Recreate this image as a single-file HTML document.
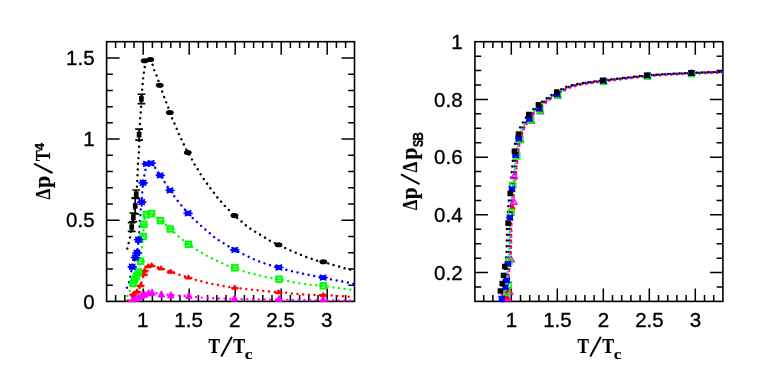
<!DOCTYPE html>
<html><head><meta charset="utf-8"><title>chart</title>
<style>html,body{margin:0;padding:0;background:#fff}svg{display:block;will-change:transform}</style>
</head><body>
<svg width="763" height="383" viewBox="0 0 763 383">
<rect width="763" height="383" fill="#fff"/>
<rect x="106.6" y="41.7" width="247.9" height="259.7" fill="none" stroke="#000" stroke-width="1.6"/>
<path d="M115.60 301.4v-6.3M115.60 41.7v6.3M124.80 301.4v-6.3M124.80 41.7v6.3M134.00 301.4v-6.3M134.00 41.7v6.3M143.20 301.4v-13M143.20 41.7v13M152.40 301.4v-6.3M152.40 41.7v6.3M161.60 301.4v-6.3M161.60 41.7v6.3M170.80 301.4v-6.3M170.80 41.7v6.3M180.00 301.4v-6.3M180.00 41.7v6.3M189.20 301.4v-13M189.20 41.7v13M198.40 301.4v-6.3M198.40 41.7v6.3M207.60 301.4v-6.3M207.60 41.7v6.3M216.80 301.4v-6.3M216.80 41.7v6.3M226.00 301.4v-6.3M226.00 41.7v6.3M235.20 301.4v-13M235.20 41.7v13M244.40 301.4v-6.3M244.40 41.7v6.3M253.60 301.4v-6.3M253.60 41.7v6.3M262.80 301.4v-6.3M262.80 41.7v6.3M272.00 301.4v-6.3M272.00 41.7v6.3M281.20 301.4v-13M281.20 41.7v13M290.40 301.4v-6.3M290.40 41.7v6.3M299.60 301.4v-6.3M299.60 41.7v6.3M308.80 301.4v-6.3M308.80 41.7v6.3M318.00 301.4v-6.3M318.00 41.7v6.3M327.20 301.4v-13M327.20 41.7v13M336.40 301.4v-6.3M336.40 41.7v6.3M345.60 301.4v-6.3M345.60 41.7v6.3M106.6 285.17h6.3M354.5 285.17h-6.3M106.6 268.94h6.3M354.5 268.94h-6.3M106.6 252.71h6.3M354.5 252.71h-6.3M106.6 236.48h6.3M354.5 236.48h-6.3M106.6 220.25h13M354.5 220.25h-13M106.6 204.02h6.3M354.5 204.02h-6.3M106.6 187.79h6.3M354.5 187.79h-6.3M106.6 171.56h6.3M354.5 171.56h-6.3M106.6 155.33h6.3M354.5 155.33h-6.3M106.6 139.10h13M354.5 139.10h-13M106.6 122.87h6.3M354.5 122.87h-6.3M106.6 106.64h6.3M354.5 106.64h-6.3M106.6 90.41h6.3M354.5 90.41h-6.3M106.6 74.18h6.3M354.5 74.18h-6.3M106.6 57.95h13M354.5 57.95h-13" fill="none" stroke="#000" stroke-width="1.5"/>
<rect x="474.9" y="41.7" width="248.0" height="259.7" fill="none" stroke="#000" stroke-width="1.6"/>
<path d="M483.70 301.4v-6.3M483.70 41.7v6.3M492.90 301.4v-6.3M492.90 41.7v6.3M502.10 301.4v-6.3M502.10 41.7v6.3M511.30 301.4v-13M511.30 41.7v13M520.50 301.4v-6.3M520.50 41.7v6.3M529.70 301.4v-6.3M529.70 41.7v6.3M538.90 301.4v-6.3M538.90 41.7v6.3M548.10 301.4v-6.3M548.10 41.7v6.3M557.30 301.4v-13M557.30 41.7v13M566.50 301.4v-6.3M566.50 41.7v6.3M575.70 301.4v-6.3M575.70 41.7v6.3M584.90 301.4v-6.3M584.90 41.7v6.3M594.10 301.4v-6.3M594.10 41.7v6.3M603.30 301.4v-13M603.30 41.7v13M612.50 301.4v-6.3M612.50 41.7v6.3M621.70 301.4v-6.3M621.70 41.7v6.3M630.90 301.4v-6.3M630.90 41.7v6.3M640.10 301.4v-6.3M640.10 41.7v6.3M649.30 301.4v-13M649.30 41.7v13M658.50 301.4v-6.3M658.50 41.7v6.3M667.70 301.4v-6.3M667.70 41.7v6.3M676.90 301.4v-6.3M676.90 41.7v6.3M686.10 301.4v-6.3M686.10 41.7v6.3M695.30 301.4v-13M695.30 41.7v13M704.50 301.4v-6.3M704.50 41.7v6.3M713.70 301.4v-6.3M713.70 41.7v6.3M474.9 287.01h6.3M722.9 287.01h-6.3M474.9 272.58h13M722.9 272.58h-13M474.9 258.15h6.3M722.9 258.15h-6.3M474.9 243.72h6.3M722.9 243.72h-6.3M474.9 229.29h6.3M722.9 229.29h-6.3M474.9 214.86h13M722.9 214.86h-13M474.9 200.43h6.3M722.9 200.43h-6.3M474.9 186.00h6.3M722.9 186.00h-6.3M474.9 171.57h6.3M722.9 171.57h-6.3M474.9 157.14h13M722.9 157.14h-13M474.9 142.71h6.3M722.9 142.71h-6.3M474.9 128.28h6.3M722.9 128.28h-6.3M474.9 113.85h6.3M722.9 113.85h-6.3M474.9 99.42h13M722.9 99.42h-13M474.9 84.99h6.3M722.9 84.99h-6.3M474.9 70.56h6.3M722.9 70.56h-6.3M474.9 56.13h6.3M722.9 56.13h-6.3" fill="none" stroke="#000" stroke-width="1.5"/>
<text x="142.6" y="326.5" font-size="20.5" text-anchor="middle" font-family="Liberation Sans, sans-serif" fill="#000" stroke="#000" stroke-width="0.35">1</text>
<text x="511.40000000000003" y="326.5" font-size="20.5" text-anchor="middle" font-family="Liberation Sans, sans-serif" fill="#000" stroke="#000" stroke-width="0.35">1</text>
<text x="188.6" y="326.5" font-size="20.5" text-anchor="middle" font-family="Liberation Sans, sans-serif" fill="#000" stroke="#000" stroke-width="0.35">1.5</text>
<text x="557.4" y="326.5" font-size="20.5" text-anchor="middle" font-family="Liberation Sans, sans-serif" fill="#000" stroke="#000" stroke-width="0.35">1.5</text>
<text x="234.6" y="326.5" font-size="20.5" text-anchor="middle" font-family="Liberation Sans, sans-serif" fill="#000" stroke="#000" stroke-width="0.35">2</text>
<text x="603.4" y="326.5" font-size="20.5" text-anchor="middle" font-family="Liberation Sans, sans-serif" fill="#000" stroke="#000" stroke-width="0.35">2</text>
<text x="280.59999999999997" y="326.5" font-size="20.5" text-anchor="middle" font-family="Liberation Sans, sans-serif" fill="#000" stroke="#000" stroke-width="0.35">2.5</text>
<text x="649.4" y="326.5" font-size="20.5" text-anchor="middle" font-family="Liberation Sans, sans-serif" fill="#000" stroke="#000" stroke-width="0.35">2.5</text>
<text x="326.59999999999997" y="326.5" font-size="20.5" text-anchor="middle" font-family="Liberation Sans, sans-serif" fill="#000" stroke="#000" stroke-width="0.35">3</text>
<text x="695.4" y="326.5" font-size="20.5" text-anchor="middle" font-family="Liberation Sans, sans-serif" fill="#000" stroke="#000" stroke-width="0.35">3</text>
<text x="94.6" y="65.14999999999996" font-size="20.5" text-anchor="end" font-family="Liberation Sans, sans-serif" fill="#000" stroke="#000" stroke-width="0.35">1.5</text>
<text x="94.6" y="146.29999999999995" font-size="20.5" text-anchor="end" font-family="Liberation Sans, sans-serif" fill="#000" stroke="#000" stroke-width="0.35">1</text>
<text x="94.6" y="227.44999999999996" font-size="20.5" text-anchor="end" font-family="Liberation Sans, sans-serif" fill="#000" stroke="#000" stroke-width="0.35">0.5</text>
<text x="94.6" y="308.59999999999997" font-size="20.5" text-anchor="end" font-family="Liberation Sans, sans-serif" fill="#000" stroke="#000" stroke-width="0.35">0</text>
<text x="462.6" y="48.900000000000006" font-size="20.5" text-anchor="end" font-family="Liberation Sans, sans-serif" fill="#000" stroke="#000" stroke-width="0.35">1</text>
<text x="462.6" y="106.61999999999999" font-size="20.5" text-anchor="end" font-family="Liberation Sans, sans-serif" fill="#000" stroke="#000" stroke-width="0.35">0.8</text>
<text x="462.6" y="164.34" font-size="20.5" text-anchor="end" font-family="Liberation Sans, sans-serif" fill="#000" stroke="#000" stroke-width="0.35">0.6</text>
<text x="462.6" y="222.06" font-size="20.5" text-anchor="end" font-family="Liberation Sans, sans-serif" fill="#000" stroke="#000" stroke-width="0.35">0.4</text>
<text x="462.6" y="279.78000000000003" font-size="20.5" text-anchor="end" font-family="Liberation Sans, sans-serif" fill="#000" stroke="#000" stroke-width="0.35">0.2</text>
<text transform="translate(208.44 352.80) scale(0.791 1)" font-size="21.69" font-family="Liberation Serif, serif" font-weight="bold" fill="#000" stroke="#000" stroke-width="0.2">T</text>
<path d="M221.30 356.5L231.90 336.8" stroke="#000" stroke-width="2.0" fill="none"/>
<text transform="translate(233.33 352.80) scale(0.820 1)" font-size="21.69" font-family="Liberation Serif, serif" font-weight="bold" fill="#000" stroke="#000" stroke-width="0.2">T</text>
<text transform="translate(244.69 359.00) scale(1.164 1)" font-size="14.95" font-family="Liberation Serif, serif" font-weight="bold" fill="#000" stroke="#000" stroke-width="0.2">c</text>
<text transform="translate(577.44 352.80) scale(0.791 1)" font-size="21.69" font-family="Liberation Serif, serif" font-weight="bold" fill="#000" stroke="#000" stroke-width="0.2">T</text>
<path d="M590.30 356.5L600.90 336.8" stroke="#000" stroke-width="2.0" fill="none"/>
<text transform="translate(602.33 352.80) scale(0.820 1)" font-size="21.69" font-family="Liberation Serif, serif" font-weight="bold" fill="#000" stroke="#000" stroke-width="0.2">T</text>
<text transform="translate(613.69 359.00) scale(1.164 1)" font-size="14.95" font-family="Liberation Serif, serif" font-weight="bold" fill="#000" stroke="#000" stroke-width="0.2">c</text>
<g transform="translate(49.7 199.2) rotate(-90)">
<text transform="translate(-0.26 0.00) scale(0.796 1)" font-size="21.53" font-family="Liberation Serif, serif" font-weight="bold" fill="#000" stroke="#000" stroke-width="0.2">&#916;</text>
<text transform="translate(11.17 0.00) scale(0.986 1)" font-size="22.32" font-family="Liberation Serif, serif" font-weight="bold" fill="#000" stroke="#000" stroke-width="0.2">p</text>
<path d="M26.2 2.8L35.5 -15.6" stroke="#000" stroke-width="2.0" fill="none"/>
<text transform="translate(37.85 0.00) scale(0.764 1)" font-size="21.85" font-family="Liberation Serif, serif" font-weight="bold" fill="#000" stroke="#000" stroke-width="0.2">T</text>
<text transform="translate(48.70 -6.10) scale(1.046 1)" font-size="13.04" font-family="Liberation Sans, sans-serif" font-weight="bold" fill="#000" stroke="#000" stroke-width="0.3">4</text>
</g>
<g transform="translate(416.9 210.0) rotate(-90)">
<text transform="translate(-0.25 0.00) scale(0.781 1)" font-size="21.53" font-family="Liberation Serif, serif" font-weight="bold" fill="#000" stroke="#000" stroke-width="0.2">&#916;</text>
<text transform="translate(10.78 0.00) scale(0.950 1)" font-size="22.32" font-family="Liberation Serif, serif" font-weight="bold" fill="#000" stroke="#000" stroke-width="0.2">p</text>
<path d="M25.8 2.7L35.6 -15.9" stroke="#000" stroke-width="2.0" fill="none"/>
<text transform="translate(37.44 0.00) scale(0.796 1)" font-size="21.53" font-family="Liberation Serif, serif" font-weight="bold" fill="#000" stroke="#000" stroke-width="0.2">&#916;</text>
<text transform="translate(50.58 0.00) scale(0.950 1)" font-size="22.32" font-family="Liberation Serif, serif" font-weight="bold" fill="#000" stroke="#000" stroke-width="0.2">p</text>
<text transform="translate(62.88 6.10) scale(0.774 1)" font-size="14.00" font-family="Liberation Sans, sans-serif" font-weight="bold" fill="#000" stroke="#000" stroke-width="0.3">S</text>
<text transform="translate(69.54 6.10) scale(0.820 1)" font-size="14.20" font-family="Liberation Sans, sans-serif" font-weight="bold" fill="#000" stroke="#000" stroke-width="0.3">B</text>
</g>
<clipPath id="cl"><rect x="106.6" y="41.7" width="247.9" height="260.5"/></clipPath>
<clipPath id="cr"><rect x="474.9" y="41.7" width="248.0" height="260.5"/></clipPath>
<g clip-path="url(#cl)">
<path d="M127.30 248.60L127.52 247.74L127.73 246.89L127.94 246.04L128.16 245.19L128.38 244.31L128.60 243.40L128.82 242.53L129.05 241.71L129.28 240.87L129.51 239.94L129.75 238.84L130.00 237.50L130.26 235.83L130.53 233.89L130.81 231.77L131.09 229.60L131.39 227.51L131.70 225.60L132.04 223.89L132.41 222.30L132.79 220.77L133.16 219.28L133.50 217.77L133.80 216.20L134.04 214.60L134.24 213.02L134.42 211.42L134.58 209.78L134.73 208.08L134.90 206.30L135.07 204.36L135.24 202.27L135.40 200.12L135.56 198.00L135.73 196.00L135.90 194.20L136.08 192.68L136.28 191.39L136.48 190.21L136.67 189.04L136.85 187.77L137.00 186.30L137.12 184.60L137.21 182.76L137.29 180.83L137.36 178.84L137.42 176.85L137.50 174.90L137.58 172.92L137.67 170.86L137.75 168.80L137.83 166.81L137.92 164.99L138.00 163.40L138.08 162.17L138.16 161.26L138.24 160.51L138.33 159.75L138.41 158.84L138.50 157.60L138.59 156.13L138.69 154.57L138.78 152.86L138.88 150.90L138.99 148.64L139.10 146.00L139.22 142.73L139.35 138.84L139.49 134.64L139.63 130.44L139.76 126.56L139.90 123.30L140.04 120.68L140.18 118.46L140.32 116.56L140.46 114.88L140.58 113.36L140.70 111.90L140.79 110.71L140.87 109.89L140.94 109.23L141.01 108.49L141.09 107.45L141.20 105.90L141.34 103.69L141.49 100.98L141.66 97.98L141.84 94.89L142.02 91.92L142.20 89.30L142.38 86.96L142.57 84.73L142.77 82.62L142.96 80.66L143.14 78.88L143.30 77.30L143.44 75.98L143.56 74.93L143.66 74.04L143.77 73.25L143.88 72.47L144.00 71.60L144.14 70.67L144.28 69.74L144.43 68.81L144.58 67.90L144.74 66.99L144.90 66.10L145.06 65.19L145.22 64.25L145.38 63.32L145.56 62.44L145.76 61.65L146.00 61.00L146.28 60.48L146.59 60.07L146.93 59.76L147.28 59.51L147.64 59.33L148.00 59.20L148.37 59.10L148.76 59.05L149.16 59.06L149.56 59.15L149.94 59.32L150.30 59.60L150.63 59.98L150.93 60.46L151.22 61.03L151.51 61.68L151.80 62.41L152.10 63.20L152.41 64.11L152.71 65.15L153.02 66.26L153.34 67.40L153.66 68.49L154.00 69.50L154.35 70.40L154.72 71.24L155.09 72.04L155.47 72.83L155.84 73.64L156.20 74.50L156.55 75.42L156.90 76.37L157.24 77.35L157.58 78.33L157.90 79.28L158.20 80.20L158.47 81.07L158.71 81.89L158.93 82.70L159.16 83.51L159.41 84.33L159.70 85.20L160.04 86.11L160.42 87.06L160.82 88.03L161.23 89.00L161.63 89.96L162.00 90.90L162.34 91.82L162.66 92.72L162.96 93.62L163.27 94.51L163.58 95.40L163.90 96.30L164.24 97.20L164.59 98.11L164.94 99.01L165.29 99.91L165.65 100.81L166.00 101.70L166.36 102.57L166.72 103.43L167.08 104.29L167.44 105.14L167.78 106.01L168.10 106.90L168.39 107.81L168.65 108.74L168.89 109.69L169.14 110.63L169.40 111.57L169.70 112.50L170.03 113.41L170.38 114.32L170.75 115.22L171.13 116.11L171.51 117.01L171.90 117.90L172.29 118.79L172.69 119.67L173.09 120.55L173.50 121.43L173.90 122.31L174.30 123.20L174.69 124.10L175.09 125.01L175.48 125.93L175.86 126.83L176.24 127.73L176.60 128.60L176.94 129.44L177.27 130.26L177.59 131.06L177.91 131.86L178.24 132.67L178.60 133.50L178.99 134.35L179.40 135.21L179.82 136.08L180.25 136.95L180.68 137.82L181.10 138.70L181.50 139.54L181.87 140.34L182.24 141.14L182.64 141.99L183.08 142.93L183.60 144.00L184.21 145.25L184.89 146.67L185.61 148.17L186.36 149.69L187.10 151.16L187.80 152.50L188.48 153.73L189.17 154.90L189.84 156.02L190.50 157.09L191.12 158.11L191.70 159.10L192.21 160.03L192.67 160.89L193.09 161.71L193.51 162.50L193.93 163.29L194.40 164.10L194.91 164.92L195.44 165.74L195.99 166.56L196.54 167.37L197.08 168.18L197.60 169.00L198.10 169.82L198.58 170.64L199.06 171.46L199.53 172.27L200.01 173.09L200.50 173.90L201.00 174.71L201.51 175.51L202.02 176.31L202.54 177.10L203.06 177.90L203.60 178.70L204.15 179.50L204.72 180.31L205.29 181.11L205.87 181.91L206.44 182.71L207.00 183.50L207.54 184.28L208.07 185.05L208.59 185.82L209.11 186.58L209.65 187.34L210.20 188.10L210.78 188.85L211.37 189.60L211.98 190.34L212.59 191.09L213.20 191.84L213.80 192.60L214.39 193.38L214.96 194.17L215.54 194.96L216.11 195.76L216.70 196.54L217.30 197.30L217.92 198.04L218.55 198.76L219.19 199.48L219.83 200.18L220.47 200.89L221.10 201.60L221.72 202.32L222.33 203.04L222.93 203.76L223.54 204.48L224.16 205.19L224.80 205.90L225.44 206.58L226.08 207.22L226.73 207.86L227.41 208.52L228.13 209.23L228.90 210.00L229.73 210.86L230.60 211.78L231.52 212.74L232.47 213.73L233.47 214.73L234.50 215.70L235.62 216.68L236.83 217.70L238.07 218.71L239.31 219.70L240.47 220.64L241.50 221.50L242.38 222.27L243.16 222.97L243.86 223.61L244.53 224.22L245.20 224.81L245.90 225.40L246.63 225.98L247.36 226.53L248.08 227.06L248.81 227.57L249.55 228.09L250.30 228.60L251.06 229.11L251.83 229.61L252.61 230.11L253.39 230.61L254.19 231.10L255.00 231.60L255.83 232.10L256.69 232.60L257.55 233.11L258.41 233.61L259.27 234.11L260.10 234.60L260.90 235.09L261.69 235.56L262.46 236.04L263.23 236.51L264.00 237.00L264.80 237.50L265.57 238.00L266.30 238.51L267.04 239.02L267.84 239.55L268.74 240.11L269.80 240.70L271.07 241.35L272.53 242.07L274.10 242.81L275.69 243.54L277.22 244.25L278.60 244.90L279.84 245.49L281.01 246.04L282.11 246.56L283.17 247.05L284.19 247.53L285.20 248.00L286.17 248.45L287.09 248.89L287.98 249.30L288.85 249.70L289.72 250.10L290.60 250.50L291.49 250.89L292.37 251.28L293.25 251.66L294.13 252.04L295.01 252.42L295.90 252.80L296.80 253.19L297.70 253.58L298.60 253.97L299.50 254.36L300.40 254.73L301.30 255.10L302.19 255.45L303.06 255.79L303.94 256.12L304.81 256.45L305.70 256.78L306.60 257.10L307.52 257.42L308.47 257.75L309.42 258.07L310.37 258.39L311.30 258.70L312.20 259.00L313.06 259.30L313.87 259.60L314.68 259.89L315.48 260.18L316.32 260.45L317.20 260.70L318.11 260.91L319.03 261.09L319.98 261.24L320.98 261.41L322.04 261.62L323.20 261.90L324.50 262.27L325.95 262.70L327.47 263.18L328.98 263.66L330.42 264.11L331.70 264.50L332.81 264.81L333.81 265.07L334.73 265.30L335.61 265.52L336.49 265.75L337.40 266.00L338.35 266.29L339.30 266.59L340.24 266.91L341.18 267.22L342.10 267.52L343.00 267.80L343.86 268.06L344.69 268.30L345.51 268.54L346.32 268.76L347.14 268.98L348.00 269.20L348.89 269.41L349.80 269.61L350.72 269.81L351.65 270.01L352.58 270.20L353.50 270.40" fill="none" stroke="#000" stroke-width="2.45" stroke-linecap="round" stroke-dasharray="0.01 5.7" stroke-dashoffset="0"/>
<path d="M126.90 287.70L127.28 286.77L127.67 285.83L128.06 284.89L128.43 283.96L128.79 283.03L129.10 282.10L129.36 281.23L129.58 280.42L129.78 279.61L129.96 278.75L130.16 277.76L130.40 276.60L130.65 275.21L130.91 273.63L131.18 271.94L131.48 270.19L131.81 268.45L132.20 266.80L132.67 265.17L133.22 263.49L133.81 261.83L134.40 260.24L134.94 258.78L135.40 257.50L135.76 256.55L136.06 255.90L136.31 255.39L136.53 254.82L136.76 254.02L137.00 252.80L137.26 251.11L137.52 249.07L137.78 246.80L138.03 244.41L138.27 242.00L138.50 239.70L138.72 237.38L138.93 234.94L139.12 232.49L139.31 230.14L139.47 228.01L139.60 226.20L139.69 224.79L139.75 223.70L139.79 222.82L139.81 222.05L139.85 221.28L139.90 220.40L139.97 219.43L140.06 218.46L140.14 217.49L140.23 216.53L140.32 215.56L140.40 214.60L140.47 213.66L140.52 212.73L140.58 211.81L140.63 210.88L140.71 209.91L140.80 208.90L140.92 207.87L141.07 206.85L141.24 205.79L141.40 204.67L141.56 203.45L141.70 202.10L141.82 200.56L141.91 198.84L142.01 197.03L142.10 195.19L142.19 193.39L142.30 191.70L142.41 190.12L142.53 188.60L142.65 187.11L142.78 185.66L142.93 184.23L143.10 182.80L143.30 181.37L143.53 179.93L143.77 178.51L144.03 177.13L144.27 175.82L144.50 174.60L144.71 173.48L144.91 172.45L145.11 171.49L145.30 170.57L145.50 169.68L145.70 168.80L145.90 167.90L146.10 167.00L146.30 166.12L146.51 165.31L146.74 164.59L147.00 164.00L147.29 163.55L147.61 163.21L147.95 162.96L148.30 162.79L148.65 162.68L149.00 162.60L149.31 162.53L149.60 162.47L149.88 162.47L150.20 162.57L150.60 162.80L151.10 163.20L151.74 163.81L152.49 164.59L153.31 165.51L154.16 166.52L155.00 167.56L155.80 168.60L156.54 169.64L157.26 170.73L157.98 171.86L158.69 173.01L159.43 174.20L160.20 175.40L161.01 176.64L161.86 177.91L162.73 179.22L163.60 180.53L164.47 181.83L165.30 183.10L166.10 184.35L166.89 185.59L167.66 186.81L168.43 188.03L169.21 189.22L170.00 190.40L170.82 191.58L171.67 192.76L172.53 193.92L173.36 195.04L174.16 196.11L174.90 197.10L175.56 197.99L176.16 198.79L176.72 199.54L177.27 200.25L177.82 200.96L178.40 201.70L178.98 202.43L179.53 203.11L180.09 203.79L180.69 204.51L181.35 205.30L182.10 206.20L182.97 207.25L183.94 208.42L184.97 209.67L186.04 210.93L187.09 212.16L188.10 213.30L189.08 214.37L190.08 215.41L191.06 216.41L192.02 217.37L192.94 218.27L193.80 219.10L194.59 219.84L195.31 220.48L196.00 221.07L196.66 221.63L197.32 222.20L198.00 222.80L198.69 223.44L199.36 224.09L200.04 224.74L200.71 225.40L201.40 226.05L202.10 226.70L202.82 227.34L203.55 227.98L204.29 228.62L205.03 229.25L205.77 229.88L206.50 230.50L207.22 231.11L207.94 231.71L208.65 232.31L209.36 232.90L210.08 233.50L210.80 234.10L211.52 234.72L212.24 235.34L212.97 235.98L213.70 236.60L214.44 237.21L215.20 237.80L215.98 238.36L216.77 238.91L217.57 239.44L218.39 239.96L219.20 240.48L220.00 241.00L220.80 241.53L221.61 242.05L222.41 242.57L223.21 243.09L224.01 243.60L224.80 244.10L225.57 244.58L226.33 245.05L227.08 245.51L227.83 245.97L228.60 246.43L229.40 246.90L230.23 247.38L231.09 247.86L231.96 248.35L232.84 248.84L233.72 249.32L234.60 249.80L235.48 250.28L236.38 250.76L237.28 251.24L238.17 251.71L239.05 252.17L239.90 252.60L240.71 253.00L241.50 253.37L242.26 253.72L243.03 254.07L243.80 254.42L244.60 254.80L245.42 255.20L246.26 255.61L247.11 256.03L247.96 256.46L248.83 256.88L249.70 257.30L250.58 257.72L251.48 258.15L252.39 258.58L253.30 259.00L254.20 259.41L255.10 259.80L255.99 260.18L256.87 260.54L257.75 260.89L258.63 261.23L259.51 261.57L260.40 261.90L261.29 262.23L262.19 262.56L263.09 262.88L264.00 263.19L264.90 263.50L265.80 263.80L266.67 264.09L267.51 264.37L268.36 264.64L269.23 264.92L270.17 265.20L271.20 265.50L272.34 265.81L273.56 266.12L274.84 266.44L276.17 266.78L277.53 267.13L278.90 267.50L280.33 267.91L281.84 268.37L283.39 268.84L284.90 269.30L286.32 269.73L287.60 270.10L288.70 270.41L289.67 270.67L290.56 270.89L291.39 271.10L292.23 271.30L293.10 271.50L294.00 271.70L294.90 271.88L295.80 272.06L296.70 272.23L297.60 272.41L298.50 272.60L299.41 272.81L300.33 273.03L301.25 273.25L302.17 273.47L303.09 273.69L304.00 273.90L304.90 274.09L305.80 274.28L306.69 274.46L307.58 274.63L308.48 274.81L309.40 275.00L310.30 275.19L311.19 275.39L312.08 275.59L313.01 275.79L314.01 275.99L315.10 276.20L316.30 276.40L317.59 276.60L318.95 276.79L320.35 277.00L321.78 277.24L323.20 277.50L324.68 277.82L326.23 278.18L327.81 278.57L329.35 278.95L330.80 279.30L332.10 279.60L333.22 279.83L334.21 280.01L335.10 280.16L335.95 280.30L336.80 280.44L337.70 280.60L338.65 280.78L339.60 280.96L340.55 281.14L341.50 281.33L342.45 281.52L343.40 281.70L344.35 281.88L345.31 282.07L346.27 282.26L347.22 282.44L348.13 282.62L349.00 282.80L349.81 282.97L350.58 283.14L351.32 283.31L352.04 283.47L352.76 283.63L353.50 283.80" fill="none" stroke="#0000ff" stroke-width="2.45" stroke-linecap="round" stroke-dasharray="0.01 5.7" stroke-dashoffset="0"/>
<path d="M127.50 296.00L127.84 295.24L128.18 294.48L128.52 293.72L128.86 292.96L129.18 292.22L129.50 291.50L129.80 290.80L130.09 290.13L130.36 289.47L130.64 288.81L130.91 288.16L131.20 287.50L131.50 286.83L131.80 286.15L132.11 285.47L132.42 284.80L132.72 284.14L133.00 283.50L133.26 282.89L133.50 282.31L133.74 281.75L133.97 281.19L134.22 280.61L134.50 280.00L134.80 279.36L135.13 278.70L135.47 278.03L135.81 277.35L136.16 276.67L136.50 276.00L136.83 275.41L137.16 274.92L137.49 274.43L137.83 273.84L138.16 273.06L138.50 272.00L138.85 270.62L139.22 268.99L139.59 267.17L139.95 265.23L140.29 263.22L140.60 261.20L140.88 259.12L141.13 256.91L141.36 254.64L141.58 252.36L141.79 250.13L142.00 248.00L142.21 245.99L142.40 244.06L142.59 242.18L142.77 240.31L142.94 238.43L143.10 236.50L143.23 234.46L143.34 232.32L143.44 230.16L143.54 228.07L143.66 226.12L143.80 224.40L143.96 222.91L144.13 221.58L144.32 220.39L144.52 219.33L144.75 218.38L145.00 217.50L145.28 216.73L145.60 216.08L145.93 215.54L146.28 215.07L146.64 214.67L147.00 214.30L147.37 213.98L147.74 213.72L148.13 213.53L148.52 213.38L148.91 213.27L149.30 213.20L149.66 213.15L149.99 213.12L150.32 213.13L150.68 213.20L151.10 213.35L151.60 213.60L152.21 213.96L152.90 214.43L153.66 214.98L154.44 215.58L155.23 216.19L156.00 216.80L156.75 217.41L157.51 218.05L158.27 218.71L159.04 219.37L159.81 220.04L160.60 220.70L161.40 221.34L162.22 221.98L163.04 222.62L163.87 223.26L164.69 223.92L165.50 224.60L166.28 225.30L167.04 226.00L167.79 226.72L168.56 227.46L169.36 228.21L170.20 229.00L171.10 229.82L172.04 230.68L173.02 231.56L174.01 232.44L175.01 233.33L176.00 234.20L176.98 235.06L177.97 235.91L178.96 236.76L179.96 237.61L180.97 238.46L182.00 239.30L183.06 240.16L184.15 241.03L185.26 241.91L186.35 242.76L187.40 243.56L188.40 244.30L189.33 244.96L190.20 245.56L191.03 246.11L191.85 246.64L192.67 247.16L193.50 247.70L194.35 248.25L195.21 248.80L196.07 249.34L196.92 249.87L197.77 250.39L198.60 250.90L199.42 251.39L200.22 251.86L201.01 252.33L201.80 252.78L202.60 253.24L203.40 253.70L204.21 254.17L205.02 254.64L205.83 255.11L206.65 255.58L207.47 256.04L208.30 256.50L209.14 256.95L209.98 257.39L210.83 257.82L211.69 258.25L212.54 258.67L213.40 259.10L214.26 259.52L215.12 259.95L215.99 260.37L216.86 260.79L217.73 261.20L218.60 261.60L219.48 261.99L220.37 262.38L221.26 262.76L222.14 263.14L223.03 263.52L223.90 263.90L224.75 264.29L225.59 264.69L226.42 265.09L227.26 265.48L228.11 265.85L229.00 266.20L229.93 266.51L230.90 266.80L231.89 267.06L232.89 267.33L233.86 267.60L234.80 267.90L235.70 268.23L236.56 268.57L237.41 268.93L238.25 269.29L239.11 269.65L240.00 270.00L240.92 270.34L241.86 270.69L242.82 271.04L243.78 271.37L244.74 271.70L245.70 272.00L246.65 272.28L247.60 272.55L248.56 272.80L249.51 273.04L250.46 273.27L251.40 273.50L252.34 273.72L253.28 273.91L254.22 274.11L255.15 274.30L256.08 274.49L257.00 274.70L257.91 274.92L258.81 275.16L259.70 275.39L260.59 275.63L261.49 275.87L262.40 276.10L263.26 276.32L264.05 276.52L264.85 276.73L265.73 276.93L266.75 277.16L268.00 277.40L269.58 277.68L271.46 277.98L273.49 278.30L275.52 278.62L277.41 278.92L279.00 279.20L280.27 279.45L281.33 279.69L282.25 279.91L283.09 280.11L283.92 280.31L284.80 280.50L285.72 280.67L286.62 280.81L287.51 280.94L288.40 281.08L289.29 281.23L290.20 281.40L291.12 281.61L292.05 281.85L292.98 282.10L293.92 282.35L294.86 282.59L295.80 282.80L296.74 282.98L297.69 283.14L298.64 283.29L299.59 283.43L300.54 283.57L301.50 283.70L302.46 283.83L303.44 283.95L304.41 284.07L305.39 284.18L306.35 284.29L307.30 284.40L308.18 284.50L308.97 284.60L309.76 284.69L310.61 284.79L311.60 284.89L312.80 285.00L314.30 285.12L316.06 285.24L317.95 285.36L319.86 285.50L321.65 285.64L323.20 285.80L324.49 285.98L325.63 286.19L326.64 286.41L327.60 286.63L328.53 286.83L329.50 287.00L330.48 287.13L331.44 287.24L332.39 287.32L333.32 287.41L334.26 287.50L335.20 287.60L336.15 287.72L337.10 287.85L338.06 287.99L339.01 288.13L339.96 288.26L340.90 288.40L341.82 288.53L342.72 288.67L343.62 288.81L344.53 288.94L345.49 289.07L346.50 289.20L347.59 289.32L348.73 289.44L349.91 289.56L351.11 289.67L352.32 289.78L353.50 289.90" fill="none" stroke="#00ff00" stroke-width="2.45" stroke-linecap="round" stroke-dasharray="0.01 5.7" stroke-dashoffset="0"/>
<path d="M128.00 300.30L128.41 299.75L128.82 299.19L129.23 298.62L129.64 298.07L130.07 297.53L130.50 297.00L130.94 296.49L131.38 296.00L131.82 295.51L132.29 295.04L132.78 294.57L133.30 294.10L133.87 293.68L134.47 293.31L135.10 292.96L135.74 292.55L136.38 292.05L137.00 291.40L137.61 290.62L138.22 289.77L138.83 288.82L139.43 287.75L140.02 286.55L140.60 285.20L141.18 283.57L141.78 281.64L142.36 279.57L142.91 277.54L143.40 275.70L143.80 274.20L144.09 273.09L144.28 272.24L144.41 271.59L144.52 271.04L144.64 270.54L144.80 270.00L145.00 269.43L145.21 268.90L145.44 268.41L145.67 267.96L145.93 267.56L146.20 267.20L146.48 266.90L146.77 266.66L147.07 266.47L147.41 266.30L147.78 266.15L148.20 266.00L148.67 265.83L149.19 265.66L149.75 265.50L150.34 265.37L150.96 265.30L151.60 265.30L152.27 265.38L152.97 265.54L153.71 265.74L154.46 265.99L155.23 266.24L156.00 266.50L156.79 266.77L157.60 267.06L158.42 267.38L159.25 267.69L160.08 268.00L160.90 268.30L161.72 268.58L162.53 268.84L163.35 269.10L164.17 269.36L164.98 269.62L165.80 269.90L166.62 270.19L167.44 270.49L168.26 270.79L169.07 271.10L169.89 271.40L170.70 271.70L171.51 271.99L172.31 272.28L173.11 272.56L173.90 272.84L174.70 273.12L175.50 273.40L176.26 273.66L176.98 273.91L177.69 274.16L178.46 274.41L179.31 274.69L180.30 275.00L181.46 275.35L182.76 275.73L184.14 276.12L185.58 276.54L187.01 276.97L188.40 277.40L189.78 277.86L191.21 278.36L192.63 278.88L194.01 279.37L195.32 279.82L196.50 280.20L197.53 280.49L198.43 280.71L199.26 280.88L200.04 281.04L200.84 281.20L201.70 281.40L202.61 281.63L203.53 281.89L204.47 282.14L205.41 282.40L206.36 282.66L207.30 282.90L208.25 283.13L209.20 283.36L210.15 283.59L211.10 283.80L212.05 284.01L213.00 284.20L213.94 284.37L214.88 284.53L215.82 284.67L216.75 284.81L217.68 284.95L218.60 285.10L219.50 285.26L220.39 285.42L221.27 285.59L222.16 285.76L223.07 285.93L224.00 286.10L224.98 286.28L226.00 286.48L227.04 286.68L228.07 286.87L229.06 287.05L230.00 287.20L230.81 287.31L231.49 287.38L232.14 287.44L232.84 287.50L233.70 287.58L234.80 287.70L236.19 287.87L237.81 288.09L239.58 288.32L241.41 288.56L243.25 288.79L245.00 289.00L246.63 289.18L248.20 289.33L249.76 289.48L251.37 289.63L253.10 289.80L255.00 290.00L257.17 290.24L259.57 290.53L262.08 290.82L264.59 291.12L266.97 291.38L269.10 291.60L270.98 291.76L272.70 291.88L274.30 291.97L275.80 292.04L277.22 292.12L278.60 292.20L279.91 292.29L281.14 292.36L282.29 292.44L283.39 292.51L284.45 292.60L285.50 292.70L286.52 292.82L287.49 292.96L288.43 293.10L289.35 293.24L290.27 293.38L291.20 293.50L292.14 293.60L293.07 293.69L294.00 293.77L294.93 293.85L295.86 293.93L296.80 294.00L297.75 294.07L298.70 294.15L299.65 294.22L300.60 294.29L301.55 294.35L302.50 294.40L303.44 294.44L304.37 294.48L305.30 294.51L306.23 294.53L307.16 294.56L308.10 294.60L309.00 294.65L309.86 294.70L310.71 294.76L311.62 294.81L312.63 294.86L313.80 294.90L315.15 294.92L316.66 294.93L318.26 294.93L319.92 294.94L321.58 294.96L323.20 295.00L324.82 295.07L326.50 295.17L328.19 295.28L329.82 295.40L331.34 295.51L332.70 295.60L333.86 295.68L334.85 295.75L335.74 295.81L336.57 295.87L337.41 295.94L338.30 296.00L339.24 296.07L340.19 296.14L341.14 296.21L342.10 296.27L343.05 296.34L344.00 296.40L344.97 296.46L345.97 296.51L346.97 296.56L347.94 296.61L348.86 296.66L349.70 296.70L350.44 296.74L351.11 296.77L351.72 296.81L352.30 296.84L352.89 296.87L353.50 296.90" fill="none" stroke="#ff0000" stroke-width="2.45" stroke-linecap="round" stroke-dasharray="0.01 5.7" stroke-dashoffset="0"/>
<path d="M129.50 301.00L129.94 300.81L130.36 300.62L130.78 300.44L131.22 300.24L131.69 300.03L132.20 299.80L132.77 299.53L133.38 299.24L134.02 298.94L134.68 298.62L135.34 298.31L136.00 298.00L136.66 297.70L137.32 297.40L137.99 297.11L138.66 296.81L139.33 296.51L140.00 296.20L140.66 295.88L141.31 295.55L141.96 295.22L142.62 294.89L143.30 294.58L144.00 294.30L144.75 294.04L145.53 293.79L146.34 293.56L147.13 293.34L147.90 293.16L148.60 293.00L149.22 292.87L149.78 292.76L150.31 292.68L150.83 292.63L151.38 292.60L152.00 292.60L152.68 292.64L153.40 292.71L154.16 292.81L154.93 292.93L155.71 293.07L156.50 293.20L157.30 293.35L158.11 293.52L158.94 293.71L159.77 293.89L160.60 294.06L161.40 294.20L162.18 294.31L162.95 294.41L163.71 294.49L164.46 294.56L165.23 294.63L166.00 294.70L166.76 294.77L167.51 294.84L168.26 294.90L169.04 294.96L169.88 295.03L170.80 295.10L171.78 295.18L172.79 295.26L173.86 295.34L175.01 295.42L176.28 295.51L177.70 295.60L179.37 295.69L181.28 295.79L183.31 295.88L185.33 295.98L187.20 296.09L188.80 296.20L190.09 296.33L191.16 296.46L192.09 296.61L192.94 296.75L193.79 296.88L194.70 297.00L195.66 297.10L196.62 297.19L197.57 297.27L198.51 297.35L199.46 297.43L200.40 297.50L201.33 297.57L202.26 297.65L203.18 297.72L204.11 297.79L205.04 297.85L206.00 297.90L206.98 297.94L207.98 297.98L208.99 298.01L210.00 298.03L211.01 298.06L212.00 298.10L212.98 298.15L213.96 298.20L214.93 298.25L215.90 298.30L216.85 298.35L217.80 298.40L218.74 298.44L219.66 298.47L220.57 298.51L221.49 298.54L222.39 298.57L223.30 298.60L224.20 298.63L225.10 298.67L225.99 298.70L226.88 298.73L227.78 298.77L228.70 298.80L229.52 298.83L230.21 298.86L230.91 298.89L231.76 298.93L232.87 298.96L234.40 299.00L236.39 299.04L238.74 299.09L241.36 299.14L244.17 299.20L247.08 299.25L250.00 299.30L253.09 299.35L256.45 299.40L259.91 299.46L263.29 299.51L266.41 299.56L269.10 299.60L271.15 299.64L272.67 299.67L273.93 299.71L275.22 299.74L276.81 299.77L279.00 299.80L281.83 299.83L285.10 299.87L288.67 299.90L292.43 299.93L296.24 299.97L300.00 300.00L303.81 300.03L307.81 300.07L311.86 300.10L315.86 300.13L319.68 300.17L323.20 300.20L326.41 300.23L329.40 300.27L332.21 300.31L334.88 300.34L337.47 300.37L340.00 300.40L342.44 300.42L344.74 300.44L346.96 300.46L349.12 300.47L351.29 300.48L353.50 300.50" fill="none" stroke="#ff00ff" stroke-width="2.45" stroke-linecap="round" stroke-dasharray="0.01 5.7" stroke-dashoffset="0"/>
<path d="M129.2 302.432L132.5 296.032L135.8 302.432Z" fill="#ff00ff" stroke="#ff00ff" stroke-width="0.9" stroke-linejoin="round"/>
<path d="M132.2 301.132L135.5 294.73199999999997L138.8 301.132Z" fill="#ff00ff" stroke="#ff00ff" stroke-width="0.9" stroke-linejoin="round"/>
<path d="M135.2 299.832L138.5 293.43199999999996L141.8 299.832Z" fill="#ff00ff" stroke="#ff00ff" stroke-width="0.9" stroke-linejoin="round"/>
<path d="M138.2 298.432L141.5 292.032L144.8 298.432Z" fill="#ff00ff" stroke="#ff00ff" stroke-width="0.9" stroke-linejoin="round"/>
<path d="M141.2 297.23199999999997L144.5 290.83199999999994L147.8 297.23199999999997Z" fill="#ff00ff" stroke="#ff00ff" stroke-width="0.9" stroke-linejoin="round"/>
<path d="M145.29999999999998 295.832L148.6 289.43199999999996L151.9 295.832Z" fill="#ff00ff" stroke="#ff00ff" stroke-width="0.9" stroke-linejoin="round"/>
<path d="M148.7 295.332L152 288.93199999999996L155.3 295.332Z" fill="#ff00ff" stroke="#ff00ff" stroke-width="0.9" stroke-linejoin="round"/>
<path d="M158.1 297.032L161.4 290.63199999999995L164.70000000000002 297.032Z" fill="#ff00ff" stroke="#ff00ff" stroke-width="0.9" stroke-linejoin="round"/>
<path d="M167.5 297.932L170.8 291.532L174.10000000000002 297.932Z" fill="#ff00ff" stroke="#ff00ff" stroke-width="0.9" stroke-linejoin="round"/>
<path d="M185.5 298.532L188.8 292.13199999999995L192.10000000000002 298.532Z" fill="#ff00ff" stroke="#ff00ff" stroke-width="0.9" stroke-linejoin="round"/>
<path d="M231.29999999999998 301.132L234.6 294.73199999999997L237.9 301.132Z" fill="#ff00ff" stroke="#ff00ff" stroke-width="0.9" stroke-linejoin="round"/>
<path d="M275.7 301.73199999999997L279 295.33199999999994L282.3 301.73199999999997Z" fill="#ff00ff" stroke="#ff00ff" stroke-width="0.9" stroke-linejoin="round"/>
<path d="M319.9 302.132L323.2 295.73199999999997L326.5 302.132Z" fill="#ff00ff" stroke="#ff00ff" stroke-width="0.9" stroke-linejoin="round"/>
<path d="M130.4 295.73400000000004L133.3 291.434L136.20000000000002 295.73400000000004Z" fill="#ff0000" stroke="#ff0000" stroke-width="0.9" stroke-linejoin="round"/>
<path d="M129.3 294.5h8.0" stroke="#ff0000" stroke-width="1.6"/>
<path d="M134.1 293.034L137 288.734L139.9 293.034Z" fill="#ff0000" stroke="#ff0000" stroke-width="0.9" stroke-linejoin="round"/>
<path d="M133.0 291.79999999999995h8.0" stroke="#ff0000" stroke-width="1.6"/>
<path d="M137.7 286.834L140.6 282.534L143.5 286.834Z" fill="#ff0000" stroke="#ff0000" stroke-width="0.9" stroke-linejoin="round"/>
<path d="M136.6 285.59999999999997h8.0" stroke="#ff0000" stroke-width="1.6"/>
<path d="M140.9 275.834L143.8 271.534L146.70000000000002 275.834Z" fill="#ff0000" stroke="#ff0000" stroke-width="0.9" stroke-linejoin="round"/>
<path d="M139.8 274.59999999999997h8.0" stroke="#ff0000" stroke-width="1.6"/>
<path d="M141.7 272.134L144.6 267.834L147.5 272.134Z" fill="#ff0000" stroke="#ff0000" stroke-width="0.9" stroke-linejoin="round"/>
<path d="M140.6 270.9h8.0" stroke="#ff0000" stroke-width="1.6"/>
<path d="M145.29999999999998 267.834L148.2 263.534L151.1 267.834Z" fill="#ff0000" stroke="#ff0000" stroke-width="0.9" stroke-linejoin="round"/>
<path d="M144.2 266.59999999999997h8.0" stroke="#ff0000" stroke-width="1.6"/>
<path d="M148.7 266.934L151.6 262.634L154.5 266.934Z" fill="#ff0000" stroke="#ff0000" stroke-width="0.9" stroke-linejoin="round"/>
<path d="M147.6 265.7h8.0" stroke="#ff0000" stroke-width="1.6"/>
<path d="M158.0 269.934L160.9 265.634L163.8 269.934Z" fill="#ff0000" stroke="#ff0000" stroke-width="0.9" stroke-linejoin="round"/>
<path d="M156.9 268.7h8.0" stroke="#ff0000" stroke-width="1.6"/>
<path d="M167.79999999999998 273.334L170.7 269.034L173.6 273.334Z" fill="#ff0000" stroke="#ff0000" stroke-width="0.9" stroke-linejoin="round"/>
<path d="M166.7 272.09999999999997h8.0" stroke="#ff0000" stroke-width="1.6"/>
<path d="M185.5 279.034L188.4 274.734L191.3 279.034Z" fill="#ff0000" stroke="#ff0000" stroke-width="0.9" stroke-linejoin="round"/>
<path d="M184.4 277.79999999999995h8.0" stroke="#ff0000" stroke-width="1.6"/>
<path d="M231.9 289.23400000000004L234.8 284.934L237.70000000000002 289.23400000000004Z" fill="#ff0000" stroke="#ff0000" stroke-width="0.9" stroke-linejoin="round"/>
<path d="M230.8 288.0h8.0" stroke="#ff0000" stroke-width="1.6"/>
<path d="M275.70000000000005 293.834L278.6 289.534L281.5 293.834Z" fill="#ff0000" stroke="#ff0000" stroke-width="0.9" stroke-linejoin="round"/>
<path d="M274.6 292.59999999999997h8.0" stroke="#ff0000" stroke-width="1.6"/>
<path d="M320.3 296.634L323.2 292.334L326.09999999999997 296.634Z" fill="#ff0000" stroke="#ff0000" stroke-width="0.9" stroke-linejoin="round"/>
<path d="M319.2 295.4h8.0" stroke="#ff0000" stroke-width="1.6"/>
<rect x="130.3" y="280.8" width="5.4" height="5.4" fill="none" stroke="#00ff00" stroke-width="2.1"/>
<path d="M128.9 283.5h8.2" stroke="#00ff00" stroke-width="1.4"/>
<rect x="131.8" y="277.3" width="5.4" height="5.4" fill="none" stroke="#00ff00" stroke-width="2.1"/>
<path d="M130.4 280h8.2" stroke="#00ff00" stroke-width="1.4"/>
<rect x="133.8" y="273.3" width="5.4" height="5.4" fill="none" stroke="#00ff00" stroke-width="2.1"/>
<path d="M132.4 276h8.2" stroke="#00ff00" stroke-width="1.4"/>
<rect x="135.8" y="269.3" width="5.4" height="5.4" fill="none" stroke="#00ff00" stroke-width="2.1"/>
<path d="M134.4 272h8.2" stroke="#00ff00" stroke-width="1.4"/>
<rect x="137.9" y="258.5" width="5.4" height="5.4" fill="none" stroke="#00ff00" stroke-width="2.1"/>
<path d="M136.5 261.2h8.2" stroke="#00ff00" stroke-width="1.4"/>
<rect x="140.4" y="233.8" width="5.4" height="5.4" fill="none" stroke="#00ff00" stroke-width="2.1"/>
<path d="M139.0 236.5h8.2" stroke="#00ff00" stroke-width="1.4"/>
<rect x="141.10000000000002" y="221.70000000000002" width="5.4" height="5.4" fill="none" stroke="#00ff00" stroke-width="2.1"/>
<path d="M139.70000000000002 224.4h8.2" stroke="#00ff00" stroke-width="1.4"/>
<rect x="143.70000000000002" y="211.9" width="5.4" height="5.4" fill="none" stroke="#00ff00" stroke-width="2.1"/>
<path d="M142.3 214.6h8.2" stroke="#00ff00" stroke-width="1.4"/>
<rect x="148.9" y="210.9" width="5.4" height="5.4" fill="none" stroke="#00ff00" stroke-width="2.1"/>
<path d="M147.5 213.6h8.2" stroke="#00ff00" stroke-width="1.4"/>
<rect x="157.9" y="218.0" width="5.4" height="5.4" fill="none" stroke="#00ff00" stroke-width="2.1"/>
<path d="M156.5 220.7h8.2" stroke="#00ff00" stroke-width="1.4"/>
<rect x="167.5" y="226.3" width="5.4" height="5.4" fill="none" stroke="#00ff00" stroke-width="2.1"/>
<path d="M166.1 229h8.2" stroke="#00ff00" stroke-width="1.4"/>
<rect x="185.70000000000002" y="241.60000000000002" width="5.4" height="5.4" fill="none" stroke="#00ff00" stroke-width="2.1"/>
<path d="M184.3 244.3h8.2" stroke="#00ff00" stroke-width="1.4"/>
<rect x="232.10000000000002" y="265.1" width="5.4" height="5.4" fill="none" stroke="#00ff00" stroke-width="2.1"/>
<path d="M230.70000000000002 267.8h8.2" stroke="#00ff00" stroke-width="1.4"/>
<rect x="276.3" y="276.5" width="5.4" height="5.4" fill="none" stroke="#00ff00" stroke-width="2.1"/>
<path d="M274.90000000000003 279.2h8.2" stroke="#00ff00" stroke-width="1.4"/>
<rect x="320.5" y="283.1" width="5.4" height="5.4" fill="none" stroke="#00ff00" stroke-width="2.1"/>
<path d="M319.1 285.8h8.2" stroke="#00ff00" stroke-width="1.4"/>
<path d="M129.30 264.10L132.20 265.11L135.10 264.10L134.41 266.80L135.10 269.50L132.20 268.49L129.30 269.50L129.99 266.80Z" fill="#0000ff" stroke="#0000ff" stroke-width="1.1" stroke-linejoin="round"/>
<path d="M127.6 266.8h9.2" stroke="#0000ff" stroke-width="1.7"/>
<path d="M132.50 254.80L135.40 255.81L138.30 254.80L137.61 257.50L138.30 260.20L135.40 259.19L132.50 260.20L133.19 257.50Z" fill="#0000ff" stroke="#0000ff" stroke-width="1.1" stroke-linejoin="round"/>
<path d="M130.8 257.5h9.2" stroke="#0000ff" stroke-width="1.7"/>
<path d="M134.10 250.10L137.00 251.11L139.90 250.10L139.21 252.80L139.90 255.50L137.00 254.49L134.10 255.50L134.79 252.80Z" fill="#0000ff" stroke="#0000ff" stroke-width="1.1" stroke-linejoin="round"/>
<path d="M132.4 252.8h9.2" stroke="#0000ff" stroke-width="1.7"/>
<path d="M135.60 237.00L138.50 238.01L141.40 237.00L140.71 239.70L141.40 242.40L138.50 241.39L135.60 242.40L136.29 239.70Z" fill="#0000ff" stroke="#0000ff" stroke-width="1.1" stroke-linejoin="round"/>
<path d="M133.9 239.7h9.2" stroke="#0000ff" stroke-width="1.7"/>
<path d="M138.80 199.40L141.70 200.41L144.60 199.40L143.91 202.10L144.60 204.80L141.70 203.79L138.80 204.80L139.49 202.10Z" fill="#0000ff" stroke="#0000ff" stroke-width="1.1" stroke-linejoin="round"/>
<path d="M137.1 202.1h9.2" stroke="#0000ff" stroke-width="1.7"/>
<path d="M140.20 180.10L143.10 181.11L146.00 180.10L145.31 182.80L146.00 185.50L143.10 184.49L140.20 185.50L140.89 182.80Z" fill="#0000ff" stroke="#0000ff" stroke-width="1.1" stroke-linejoin="round"/>
<path d="M138.5 182.8h9.2" stroke="#0000ff" stroke-width="1.7"/>
<path d="M143.50 161.20L146.40 162.21L149.30 161.20L148.61 163.90L149.30 166.60L146.40 165.59L143.50 166.60L144.19 163.90Z" fill="#0000ff" stroke="#0000ff" stroke-width="1.1" stroke-linejoin="round"/>
<path d="M141.8 163.9h9.2" stroke="#0000ff" stroke-width="1.7"/>
<path d="M148.20 160.50L151.10 161.51L154.00 160.50L153.31 163.20L154.00 165.90L151.10 164.89L148.20 165.90L148.89 163.20Z" fill="#0000ff" stroke="#0000ff" stroke-width="1.1" stroke-linejoin="round"/>
<path d="M146.5 163.2h9.2" stroke="#0000ff" stroke-width="1.7"/>
<path d="M157.30 172.70L160.20 173.71L163.10 172.70L162.41 175.40L163.10 178.10L160.20 177.09L157.30 178.10L157.99 175.40Z" fill="#0000ff" stroke="#0000ff" stroke-width="1.1" stroke-linejoin="round"/>
<path d="M155.6 175.4h9.2" stroke="#0000ff" stroke-width="1.7"/>
<path d="M167.10 187.70L170.00 188.71L172.90 187.70L172.21 190.40L172.90 193.10L170.00 192.09L167.10 193.10L167.79 190.40Z" fill="#0000ff" stroke="#0000ff" stroke-width="1.1" stroke-linejoin="round"/>
<path d="M165.4 190.4h9.2" stroke="#0000ff" stroke-width="1.7"/>
<path d="M185.20 210.60L188.10 211.61L191.00 210.60L190.31 213.30L191.00 216.00L188.10 214.99L185.20 216.00L185.89 213.30Z" fill="#0000ff" stroke="#0000ff" stroke-width="1.1" stroke-linejoin="round"/>
<path d="M183.5 213.3h9.2" stroke="#0000ff" stroke-width="1.7"/>
<path d="M231.80 247.20L234.70 248.21L237.60 247.20L236.91 249.90L237.60 252.60L234.70 251.59L231.80 252.60L232.49 249.90Z" fill="#0000ff" stroke="#0000ff" stroke-width="1.1" stroke-linejoin="round"/>
<path d="M230.1 249.9h9.2" stroke="#0000ff" stroke-width="1.7"/>
<path d="M276.00 264.80L278.90 265.81L281.80 264.80L281.11 267.50L281.80 270.20L278.90 269.19L276.00 270.20L276.69 267.50Z" fill="#0000ff" stroke="#0000ff" stroke-width="1.1" stroke-linejoin="round"/>
<path d="M274.29999999999995 267.5h9.2" stroke="#0000ff" stroke-width="1.7"/>
<path d="M320.20 274.90L323.10 275.91L326.00 274.90L325.31 277.60L326.00 280.30L323.10 279.29L320.20 280.30L320.89 277.60Z" fill="#0000ff" stroke="#0000ff" stroke-width="1.1" stroke-linejoin="round"/>
<path d="M318.5 277.6h9.2" stroke="#0000ff" stroke-width="1.7"/>
<path d="M141.7 197.5V206.7" stroke="#0000ff" stroke-width="1.8" fill="none"/>
<path d="M138.5 235.7V243.7" stroke="#0000ff" stroke-width="1.8" fill="none"/>
<path d="M137 249.0V256.6" stroke="#0000ff" stroke-width="1.8" fill="none"/>
<path d="M135.4 254.0V261.0" stroke="#0000ff" stroke-width="1.8" fill="none"/>
<path d="M132.2 263.6V270.0" stroke="#0000ff" stroke-width="1.8" fill="none"/>
<path d="M143.1 179.4V186.20000000000002" stroke="#0000ff" stroke-width="1.8" fill="none"/>
<path d="M131.7 222.6V231.4M127.79999999999998 222.6h7.8M127.79999999999998 231.4h7.8" stroke="#000" stroke-width="1.6" fill="none"/>
<rect x="129.35" y="224.2" width="4.7" height="5.6" fill="#000"/>
<path d="M133.3 213.0V221.60000000000002M129.4 213.0h7.8M129.4 221.60000000000002h7.8" stroke="#000" stroke-width="1.6" fill="none"/>
<rect x="130.95000000000002" y="214.5" width="4.7" height="5.6" fill="#000"/>
<path d="M135.2 197.9V213.9M131.29999999999998 197.9h7.8M131.29999999999998 213.9h7.8" stroke="#000" stroke-width="1.6" fill="none"/>
<rect x="132.85" y="203.1" width="4.7" height="5.6" fill="#000"/>
<path d="M136.2 190.0V198.39999999999998M132.29999999999998 190.0h7.8M132.29999999999998 198.39999999999998h7.8" stroke="#000" stroke-width="1.6" fill="none"/>
<rect x="133.85" y="191.39999999999998" width="4.7" height="5.6" fill="#000"/>
<path d="M139.1 129.1V140.1M135.2 129.1h7.8M135.2 140.1h7.8" stroke="#000" stroke-width="1.6" fill="none"/>
<rect x="136.75" y="131.79999999999998" width="4.7" height="5.6" fill="#000"/>
<path d="M141.4 94.2V103.60000000000001M137.5 94.2h7.8M137.5 103.60000000000001h7.8" stroke="#000" stroke-width="1.6" fill="none"/>
<rect x="139.05" y="96.10000000000001" width="4.7" height="5.6" fill="#000"/>
<ellipse cx="144.6" cy="60.7" rx="3.9" ry="2.55" fill="#000"/>
<ellipse cx="150.3" cy="59.5" rx="3.9" ry="2.55" fill="#000"/>
<ellipse cx="159.7" cy="85.2" rx="3.9" ry="2.55" fill="#000"/>
<ellipse cx="169.8" cy="112.5" rx="3.9" ry="2.55" fill="#000"/>
<ellipse cx="187.8" cy="152.5" rx="3.9" ry="2.55" fill="#000"/>
<ellipse cx="234.5" cy="215.6" rx="3.9" ry="2.55" fill="#000"/>
<ellipse cx="278.6" cy="244.8" rx="3.9" ry="2.55" fill="#000"/>
<ellipse cx="323.3" cy="261.8" rx="3.9" ry="2.55" fill="#000"/>
</g>
<g clip-path="url(#cr)">
<path d="M505.80 303.70L505.97 301.65L506.13 299.53L506.30 297.41L506.47 295.36L506.63 293.43L506.80 291.70L506.97 290.21L507.13 288.94L507.30 287.79L507.47 286.69L507.63 285.55L507.80 284.30L507.97 282.94L508.13 281.54L508.30 280.10L508.47 278.64L508.63 277.17L508.80 275.70L508.97 274.25L509.13 272.80L509.30 271.35L509.47 269.86L509.63 268.32L509.80 266.70L509.97 265.03L510.15 263.33L510.33 261.57L510.50 259.74L510.66 257.79L510.80 255.70L510.91 253.45L511.01 251.07L511.09 248.57L511.17 246.00L511.23 243.36L511.30 240.70L511.35 237.96L511.39 235.11L511.42 232.20L511.46 229.29L511.51 226.44L511.60 223.70L511.72 221.08L511.86 218.55L512.02 216.07L512.20 213.63L512.40 211.18L512.60 208.70L512.82 206.22L513.06 203.77L513.31 201.32L513.57 198.85L513.83 196.32L514.10 193.70L514.38 190.91L514.67 187.96L514.98 184.95L515.27 182.00L515.55 179.21L515.80 176.70L516.01 174.55L516.19 172.70L516.36 171.01L516.52 169.37L516.69 167.64L516.90 165.70L517.14 163.51L517.39 161.14L517.66 158.70L517.93 156.26L518.22 153.89L518.50 151.70L518.79 149.64L519.09 147.63L519.39 145.70L519.69 143.89L520.00 142.21L520.30 140.70L520.58 139.45L520.83 138.44L521.08 137.57L521.36 136.74L521.69 135.82L522.10 134.70L522.57 133.39L523.07 131.98L523.62 130.48L524.25 128.92L524.97 127.32L525.80 125.70L526.74 124.03L527.78 122.28L528.91 120.49L530.13 118.70L531.43 116.92L532.80 115.20L534.30 113.50L535.93 111.80L537.65 110.12L539.39 108.49L541.09 106.94L542.70 105.50L544.19 104.19L545.62 102.99L547.01 101.87L548.39 100.80L549.81 99.75L551.30 98.70L552.88 97.64L554.54 96.59L556.23 95.56L557.91 94.57L559.55 93.61L561.10 92.70L562.54 91.83L563.89 91.00L565.19 90.21L566.49 89.46L567.85 88.75L569.30 88.10L570.84 87.51L572.43 86.97L574.06 86.49L575.75 86.04L577.50 85.61L579.30 85.20L581.14 84.82L583.00 84.47L584.92 84.15L586.93 83.84L589.05 83.53L591.30 83.20L593.69 82.86L596.19 82.52L598.80 82.18L601.52 81.83L604.36 81.47L607.30 81.10L610.36 80.72L613.52 80.33L616.80 79.93L620.19 79.53L623.69 79.12L627.30 78.70L631.10 78.26L635.11 77.80L639.24 77.34L643.37 76.89L647.43 76.47L651.30 76.10L654.95 75.79L658.45 75.53L661.86 75.31L665.26 75.10L668.72 74.90L672.30 74.70L675.94 74.50L679.57 74.31L683.25 74.12L687.06 73.95L691.05 73.77L695.30 73.60L699.87 73.43L704.73 73.26L709.78 73.09L714.91 72.93L720.05 72.77L725.10 72.60" fill="none" stroke="#ff00ff" stroke-width="2.45" stroke-linecap="round" stroke-dasharray="0.01 5.7" stroke-dashoffset="1.2"/>
<path d="M504.20 303.00L504.37 300.95L504.53 298.83L504.70 296.71L504.87 294.66L505.03 292.73L505.20 291.00L505.37 289.51L505.53 288.24L505.70 287.09L505.87 285.99L506.03 284.85L506.20 283.60L506.37 282.24L506.53 280.84L506.70 279.40L506.87 277.94L507.03 276.47L507.20 275.00L507.37 273.55L507.53 272.10L507.70 270.65L507.87 269.16L508.03 267.62L508.20 266.00L508.37 264.33L508.55 262.63L508.73 260.88L508.90 259.04L509.06 257.09L509.20 255.00L509.31 252.75L509.41 250.37L509.49 247.88L509.57 245.30L509.63 242.66L509.70 240.00L509.75 237.26L509.79 234.41L509.82 231.50L509.86 228.59L509.91 225.74L510.00 223.00L510.12 220.38L510.26 217.85L510.43 215.38L510.60 212.93L510.80 210.48L511.00 208.00L511.22 205.52L511.46 203.07L511.71 200.62L511.97 198.15L512.23 195.62L512.50 193.00L512.78 190.21L513.07 187.26L513.38 184.25L513.67 181.30L513.95 178.51L514.20 176.00L514.41 173.85L514.59 172.00L514.76 170.31L514.92 168.67L515.09 166.94L515.30 165.00L515.54 162.81L515.79 160.44L516.06 158.00L516.33 155.56L516.62 153.19L516.90 151.00L517.19 148.94L517.49 146.93L517.79 145.00L518.09 143.19L518.40 141.51L518.70 140.00L518.98 138.75L519.23 137.74L519.48 136.88L519.76 136.04L520.09 135.12L520.50 134.00L520.97 132.69L521.47 131.28L522.02 129.78L522.65 128.22L523.37 126.62L524.20 125.00L525.14 123.33L526.18 121.58L527.31 119.79L528.53 118.00L529.83 116.22L531.20 114.50L532.70 112.80L534.33 111.10L536.05 109.42L537.79 107.79L539.49 106.24L541.10 104.80L542.59 103.49L544.02 102.29L545.41 101.17L546.79 100.10L548.21 99.05L549.70 98.00L551.28 96.94L552.94 95.89L554.63 94.86L556.31 93.87L557.95 92.91L559.50 92.00L560.94 91.13L562.29 90.30L563.59 89.51L564.89 88.76L566.25 88.05L567.70 87.40L569.24 86.81L570.83 86.27L572.46 85.79L574.15 85.34L575.90 84.91L577.70 84.50L579.54 84.12L581.40 83.77L583.33 83.45L585.33 83.14L587.45 82.83L589.70 82.50L592.09 82.16L594.59 81.82L597.20 81.47L599.92 81.13L602.76 80.77L605.70 80.40L608.76 80.02L611.92 79.63L615.20 79.23L618.59 78.83L622.09 78.42L625.70 78.00L629.50 77.56L633.51 77.10L637.64 76.64L641.77 76.19L645.83 75.77L649.70 75.40L653.35 75.09L656.85 74.83L660.26 74.61L663.66 74.40L667.12 74.20L670.70 74.00L674.34 73.80L677.97 73.61L681.65 73.42L685.46 73.25L689.45 73.07L693.70 72.90L698.27 72.73L703.13 72.56L708.18 72.39L713.31 72.23L718.45 72.07L723.50 71.90" fill="none" stroke="#00ff00" stroke-width="2.45" stroke-linecap="round" stroke-dasharray="0.01 5.7" stroke-dashoffset="2.85"/>
<path d="M505.50 303.00L505.67 300.95L505.83 298.83L506.00 296.71L506.17 294.66L506.33 292.73L506.50 291.00L506.67 289.51L506.83 288.24L507.00 287.09L507.17 285.99L507.33 284.85L507.50 283.60L507.67 282.24L507.83 280.84L508.00 279.40L508.17 277.94L508.33 276.47L508.50 275.00L508.67 273.55L508.83 272.10L509.00 270.65L509.17 269.16L509.33 267.62L509.50 266.00L509.67 264.33L509.85 262.63L510.03 260.88L510.20 259.04L510.36 257.09L510.50 255.00L510.61 252.75L510.71 250.37L510.79 247.88L510.87 245.30L510.93 242.66L511.00 240.00L511.05 237.26L511.09 234.41L511.12 231.50L511.16 228.59L511.21 225.74L511.30 223.00L511.42 220.38L511.56 217.85L511.73 215.38L511.90 212.93L512.10 210.48L512.30 208.00L512.52 205.52L512.76 203.07L513.01 200.62L513.27 198.15L513.53 195.62L513.80 193.00L514.08 190.21L514.37 187.26L514.68 184.25L514.97 181.30L515.25 178.51L515.50 176.00L515.71 173.85L515.89 172.00L516.06 170.31L516.22 168.67L516.39 166.94L516.60 165.00L516.84 162.81L517.09 160.44L517.36 158.00L517.63 155.56L517.92 153.19L518.20 151.00L518.49 148.94L518.79 146.93L519.09 145.00L519.39 143.19L519.70 141.51L520.00 140.00L520.28 138.75L520.53 137.74L520.78 136.88L521.06 136.04L521.39 135.12L521.80 134.00L522.27 132.69L522.77 131.28L523.32 129.78L523.95 128.22L524.67 126.62L525.50 125.00L526.44 123.33L527.48 121.58L528.61 119.79L529.83 118.00L531.13 116.22L532.50 114.50L534.00 112.80L535.63 111.10L537.35 109.42L539.09 107.79L540.79 106.24L542.40 104.80L543.89 103.49L545.32 102.29L546.71 101.17L548.09 100.10L549.51 99.05L551.00 98.00L552.58 96.94L554.24 95.89L555.93 94.86L557.61 93.87L559.25 92.91L560.80 92.00L562.24 91.13L563.59 90.30L564.89 89.51L566.19 88.76L567.55 88.05L569.00 87.40L570.54 86.81L572.13 86.27L573.76 85.79L575.45 85.34L577.20 84.91L579.00 84.50L580.84 84.12L582.70 83.77L584.62 83.45L586.63 83.14L588.75 82.83L591.00 82.50L593.39 82.16L595.89 81.82L598.50 81.47L601.22 81.13L604.06 80.77L607.00 80.40L610.06 80.02L613.22 79.63L616.50 79.23L619.89 78.83L623.39 78.42L627.00 78.00L630.80 77.56L634.81 77.10L638.94 76.64L643.07 76.19L647.13 75.77L651.00 75.40L654.65 75.09L658.15 74.83L661.56 74.61L664.96 74.40L668.42 74.20L672.00 74.00L675.64 73.80L679.27 73.61L682.95 73.42L686.76 73.25L690.75 73.07L695.00 72.90L699.57 72.73L704.43 72.56L709.48 72.39L714.61 72.23L719.75 72.07L724.80 71.90" fill="none" stroke="#ff0000" stroke-width="2.45" stroke-linecap="round" stroke-dasharray="0.01 5.7" stroke-dashoffset="0"/>
<path d="M503.50 303.00L503.67 300.95L503.83 298.83L504.00 296.71L504.17 294.66L504.33 292.73L504.50 291.00L504.67 289.51L504.83 288.24L505.00 287.09L505.17 285.99L505.33 284.85L505.50 283.60L505.67 282.24L505.83 280.84L506.00 279.40L506.17 277.94L506.33 276.47L506.50 275.00L506.67 273.55L506.83 272.10L507.00 270.65L507.17 269.16L507.33 267.62L507.50 266.00L507.67 264.33L507.85 262.63L508.03 260.88L508.20 259.04L508.36 257.09L508.50 255.00L508.61 252.75L508.71 250.37L508.79 247.88L508.87 245.30L508.93 242.66L509.00 240.00L509.05 237.26L509.09 234.41L509.12 231.50L509.16 228.59L509.21 225.74L509.30 223.00L509.42 220.38L509.56 217.85L509.73 215.38L509.90 212.93L510.10 210.48L510.30 208.00L510.52 205.52L510.76 203.07L511.01 200.62L511.27 198.15L511.53 195.62L511.80 193.00L512.08 190.21L512.37 187.26L512.68 184.25L512.97 181.30L513.25 178.51L513.50 176.00L513.71 173.85L513.89 172.00L514.06 170.31L514.22 168.67L514.39 166.94L514.60 165.00L514.84 162.81L515.09 160.44L515.36 158.00L515.63 155.56L515.92 153.19L516.20 151.00L516.49 148.94L516.79 146.93L517.09 145.00L517.39 143.19L517.70 141.51L518.00 140.00L518.28 138.75L518.53 137.74L518.78 136.88L519.06 136.04L519.39 135.12L519.80 134.00L520.27 132.69L520.77 131.28L521.32 129.78L521.95 128.22L522.67 126.62L523.50 125.00L524.44 123.33L525.48 121.58L526.61 119.79L527.83 118.00L529.13 116.22L530.50 114.50L532.00 112.80L533.63 111.10L535.35 109.42L537.09 107.79L538.79 106.24L540.40 104.80L541.89 103.49L543.32 102.29L544.71 101.17L546.09 100.10L547.51 99.05L549.00 98.00L550.58 96.94L552.24 95.89L553.93 94.86L555.61 93.87L557.25 92.91L558.80 92.00L560.24 91.13L561.59 90.30L562.89 89.51L564.19 88.76L565.55 88.05L567.00 87.40L568.54 86.81L570.13 86.27L571.76 85.79L573.45 85.34L575.20 84.91L577.00 84.50L578.84 84.12L580.70 83.77L582.62 83.45L584.63 83.14L586.75 82.83L589.00 82.50L591.39 82.16L593.89 81.82L596.50 81.47L599.22 81.13L602.06 80.77L605.00 80.40L608.06 80.02L611.22 79.63L614.50 79.23L617.89 78.83L621.39 78.42L625.00 78.00L628.80 77.56L632.81 77.10L636.94 76.64L641.07 76.19L645.13 75.77L649.00 75.40L652.65 75.09L656.15 74.83L659.56 74.61L662.96 74.40L666.42 74.20L670.00 74.00L673.64 73.80L677.27 73.61L680.95 73.42L684.76 73.25L688.75 73.07L693.00 72.90L697.57 72.73L702.43 72.56L707.48 72.39L712.61 72.23L717.75 72.07L722.80 71.90" fill="none" stroke="#0000ff" stroke-width="2.45" stroke-linecap="round" stroke-dasharray="0.01 5.7" stroke-dashoffset="0"/>
<path d="M501.30 303.00L501.47 300.95L501.63 298.83L501.80 296.71L501.97 294.66L502.13 292.73L502.30 291.00L502.47 289.51L502.63 288.24L502.80 287.09L502.97 285.99L503.13 284.85L503.30 283.60L503.47 282.24L503.63 280.84L503.80 279.40L503.97 277.94L504.13 276.47L504.30 275.00L504.47 273.55L504.63 272.10L504.80 270.65L504.97 269.16L505.13 267.62L505.30 266.00L505.47 264.33L505.65 262.63L505.83 260.88L506.00 259.04L506.16 257.09L506.30 255.00L506.41 252.75L506.51 250.37L506.59 247.88L506.67 245.30L506.73 242.66L506.80 240.00L506.85 237.26L506.89 234.41L506.92 231.50L506.96 228.59L507.01 225.74L507.10 223.00L507.22 220.38L507.36 217.85L507.53 215.38L507.70 212.93L507.90 210.48L508.10 208.00L508.32 205.52L508.56 203.07L508.81 200.62L509.07 198.15L509.33 195.62L509.60 193.00L509.88 190.21L510.17 187.26L510.48 184.25L510.77 181.30L511.05 178.51L511.30 176.00L511.51 173.85L511.69 172.00L511.86 170.31L512.02 168.67L512.19 166.94L512.40 165.00L512.64 162.81L512.89 160.44L513.16 158.00L513.43 155.56L513.72 153.19L514.00 151.00L514.29 148.94L514.59 146.93L514.89 145.00L515.19 143.19L515.50 141.51L515.80 140.00L516.08 138.75L516.33 137.74L516.58 136.88L516.86 136.04L517.19 135.12L517.60 134.00L518.07 132.69L518.57 131.28L519.12 129.78L519.75 128.22L520.47 126.62L521.30 125.00L522.24 123.33L523.28 121.58L524.41 119.79L525.63 118.00L526.93 116.22L528.30 114.50L529.80 112.80L531.43 111.10L533.15 109.42L534.89 107.79L536.59 106.24L538.20 104.80L539.69 103.49L541.12 102.29L542.51 101.17L543.89 100.10L545.31 99.05L546.80 98.00L548.38 96.94L550.04 95.89L551.73 94.86L553.41 93.87L555.05 92.91L556.60 92.00L558.04 91.13L559.39 90.30L560.69 89.51L561.99 88.76L563.35 88.05L564.80 87.40L566.34 86.81L567.93 86.27L569.56 85.79L571.25 85.34L573.00 84.91L574.80 84.50L576.64 84.12L578.50 83.77L580.42 83.45L582.43 83.14L584.55 82.83L586.80 82.50L589.19 82.16L591.69 81.82L594.30 81.47L597.02 81.13L599.86 80.77L602.80 80.40L605.86 80.02L609.02 79.63L612.30 79.23L615.69 78.83L619.19 78.42L622.80 78.00L626.60 77.56L630.61 77.10L634.74 76.64L638.87 76.19L642.93 75.77L646.80 75.40L650.45 75.09L653.95 74.83L657.36 74.61L660.76 74.40L664.22 74.20L667.80 74.00L671.44 73.80L675.07 73.61L678.75 73.42L682.56 73.25L686.55 73.07L690.80 72.90L695.37 72.73L700.23 72.56L705.28 72.39L710.41 72.23L715.55 72.07L720.60 71.90" fill="none" stroke="#000" stroke-width="2.45" stroke-linecap="round" stroke-dasharray="0.01 5.7" stroke-dashoffset="0"/>
<path d="M504.2 300.428L507.5 294.82800000000003L510.8 300.428Z" fill="none" stroke="#ff00ff" stroke-width="1.4" stroke-linejoin="round"/>
<path d="M501.0 294.428L504.3 288.82800000000003L507.6 294.428Z" fill="none" stroke="#ff00ff" stroke-width="1.4" stroke-linejoin="round"/>
<path d="M506.3 294.428L509.6 288.82800000000003L512.9 294.428Z" fill="none" stroke="#ff00ff" stroke-width="1.4" stroke-linejoin="round"/>
<path d="M507.8 261.828L511.1 256.228L514.4 261.828Z" fill="none" stroke="#ff00ff" stroke-width="1.4" stroke-linejoin="round"/>
<path d="M510.40000000000003 204.22799999999998L513.7 198.628L517.0 204.22799999999998Z" fill="none" stroke="#ff00ff" stroke-width="1.4" stroke-linejoin="round"/>
<path d="M510.90000000000003 178.628L514.2 173.028L517.5 178.628Z" fill="none" stroke="#ff00ff" stroke-width="1.4" stroke-linejoin="round"/>
<path d="M517.2 142.42799999999997L520.5 136.82799999999997L523.8 142.42799999999997Z" fill="none" stroke="#ff00ff" stroke-width="1.4" stroke-linejoin="round"/>
<path d="M528.0 123.228L531.3 117.628L534.5999999999999 123.228Z" fill="none" stroke="#ff00ff" stroke-width="1.4" stroke-linejoin="round"/>
<path d="M537.1 113.728L540.4 108.128L543.6999999999999 113.728Z" fill="none" stroke="#ff00ff" stroke-width="1.4" stroke-linejoin="round"/>
<path d="M554.6000000000001 98.128L557.9000000000001 92.528L561.2 98.128Z" fill="none" stroke="#ff00ff" stroke-width="1.4" stroke-linejoin="round"/>
<path d="M600.3000000000001 83.628L603.6 78.028L606.9 83.628Z" fill="none" stroke="#ff00ff" stroke-width="1.4" stroke-linejoin="round"/>
<path d="M644.2 78.02799999999999L647.5 72.428L650.8 78.02799999999999Z" fill="none" stroke="#ff00ff" stroke-width="1.4" stroke-linejoin="round"/>
<path d="M688.3000000000001 75.22800000000001L691.6 69.62800000000001L694.9 75.22800000000001Z" fill="none" stroke="#ff00ff" stroke-width="1.4" stroke-linejoin="round"/>
<path d="M503.8 299.248L506.6 294.648L509.40000000000003 299.248Z" fill="#ff0000" stroke="#ff0000" stroke-width="0.9" stroke-linejoin="round"/>
<path d="M506.2 292.14799999999997L509 287.548L511.8 292.14799999999997Z" fill="#ff0000" stroke="#ff0000" stroke-width="0.9" stroke-linejoin="round"/>
<path d="M509.7 209.248L512.5 204.648L515.3 209.248Z" fill="#ff0000" stroke="#ff0000" stroke-width="0.9" stroke-linejoin="round"/>
<path d="M517.2 140.84799999999998L520.0 136.248L522.8 140.84799999999998Z" fill="#ff0000" stroke="#ff0000" stroke-width="0.9" stroke-linejoin="round"/>
<path d="M528.0 121.248L530.8 116.648L533.5999999999999 121.248Z" fill="#ff0000" stroke="#ff0000" stroke-width="0.9" stroke-linejoin="round"/>
<path d="M537.2 111.548L540.0 106.948L542.8 111.548Z" fill="#ff0000" stroke="#ff0000" stroke-width="0.9" stroke-linejoin="round"/>
<path d="M554.9000000000001 96.748L557.7 92.148L560.5 96.748Z" fill="#ff0000" stroke="#ff0000" stroke-width="0.9" stroke-linejoin="round"/>
<path d="M600.7 83.048L603.5 78.448L606.3 83.048Z" fill="#ff0000" stroke="#ff0000" stroke-width="0.9" stroke-linejoin="round"/>
<path d="M644.7 77.748L647.5 73.148L650.3 77.748Z" fill="#ff0000" stroke="#ff0000" stroke-width="0.9" stroke-linejoin="round"/>
<path d="M688.8000000000001 75.248L691.6 70.648L694.4 75.248Z" fill="#ff0000" stroke="#ff0000" stroke-width="0.9" stroke-linejoin="round"/>
<rect x="504.09999999999997" y="289.7" width="5.6" height="5.6" fill="none" stroke="#00ff00" stroke-width="1.7"/>
<rect x="505.7" y="281.9" width="5.6" height="5.6" fill="none" stroke="#00ff00" stroke-width="1.7"/>
<rect x="506.2" y="258.5" width="5.6" height="5.6" fill="none" stroke="#00ff00" stroke-width="1.7"/>
<rect x="508.4" y="209.5" width="5.6" height="5.6" fill="none" stroke="#00ff00" stroke-width="1.7"/>
<rect x="509.99999999999994" y="182.5" width="5.6" height="5.6" fill="none" stroke="#00ff00" stroke-width="1.7"/>
<rect x="514.1" y="153.2" width="5.6" height="5.6" fill="none" stroke="#00ff00" stroke-width="1.7"/>
<rect x="517.2" y="136.79999999999998" width="5.6" height="5.6" fill="none" stroke="#00ff00" stroke-width="1.7"/>
<rect x="528.0" y="117.2" width="5.6" height="5.6" fill="none" stroke="#00ff00" stroke-width="1.7"/>
<rect x="537.2" y="107.2" width="5.6" height="5.6" fill="none" stroke="#00ff00" stroke-width="1.7"/>
<rect x="554.9000000000001" y="92.60000000000001" width="5.6" height="5.6" fill="none" stroke="#00ff00" stroke-width="1.7"/>
<rect x="600.7" y="78.7" width="5.6" height="5.6" fill="none" stroke="#00ff00" stroke-width="1.7"/>
<rect x="644.7" y="73.4" width="5.6" height="5.6" fill="none" stroke="#00ff00" stroke-width="1.7"/>
<rect x="688.8000000000001" y="70.9" width="5.6" height="5.6" fill="none" stroke="#00ff00" stroke-width="1.7"/>
<path d="M498.80 296.10L501.70 297.11L504.60 296.10L503.91 298.80L504.60 301.50L501.70 300.49L498.80 301.50L499.49 298.80Z" fill="#0000ff" stroke="#0000ff" stroke-width="1.1" stroke-linejoin="round"/>
<path d="M502.50 284.60L505.40 285.61L508.30 284.60L507.61 287.30L508.30 290.00L505.40 288.99L502.50 290.00L503.19 287.30Z" fill="#0000ff" stroke="#0000ff" stroke-width="1.1" stroke-linejoin="round"/>
<path d="M504.00 277.80L506.90 278.81L509.80 277.80L509.11 280.50L509.80 283.20L506.90 282.19L504.00 283.20L504.69 280.50Z" fill="#0000ff" stroke="#0000ff" stroke-width="1.1" stroke-linejoin="round"/>
<path d="M505.10 261.20L508.00 262.21L510.90 261.20L510.21 263.90L510.90 266.60L508.00 265.59L505.10 266.60L505.79 263.90Z" fill="#0000ff" stroke="#0000ff" stroke-width="1.1" stroke-linejoin="round"/>
<path d="M507.10 214.90L510.00 215.91L512.90 214.90L512.21 217.60L512.90 220.30L510.00 219.29L507.10 220.30L507.79 217.60Z" fill="#0000ff" stroke="#0000ff" stroke-width="1.1" stroke-linejoin="round"/>
<path d="M508.90 186.20L511.80 187.21L514.70 186.20L514.01 188.90L514.70 191.60L511.80 190.59L508.90 191.60L509.59 188.90Z" fill="#0000ff" stroke="#0000ff" stroke-width="1.1" stroke-linejoin="round"/>
<path d="M512.70 152.30L515.60 153.31L518.50 152.30L517.81 155.00L518.50 157.70L515.60 156.69L512.70 157.70L513.39 155.00Z" fill="#0000ff" stroke="#0000ff" stroke-width="1.1" stroke-linejoin="round"/>
<path d="M515.90 135.90L518.80 136.91L521.70 135.90L521.01 138.60L521.70 141.30L518.80 140.29L515.90 141.30L516.59 138.60Z" fill="#0000ff" stroke="#0000ff" stroke-width="1.1" stroke-linejoin="round"/>
<path d="M526.40 116.00L529.30 117.01L532.20 116.00L531.51 118.70L532.20 121.40L529.30 120.39L526.40 121.40L527.09 118.70Z" fill="#0000ff" stroke="#0000ff" stroke-width="1.1" stroke-linejoin="round"/>
<path d="M536.50 105.70L539.40 106.71L542.30 105.70L541.61 108.40L542.30 111.10L539.40 110.09L536.50 111.10L537.19 108.40Z" fill="#0000ff" stroke="#0000ff" stroke-width="1.1" stroke-linejoin="round"/>
<path d="M554.30 91.50L557.20 92.51L560.10 91.50L559.41 94.20L560.10 96.90L557.20 95.89L554.30 96.90L554.99 94.20Z" fill="#0000ff" stroke="#0000ff" stroke-width="1.1" stroke-linejoin="round"/>
<path d="M600.40 78.20L603.30 79.21L606.20 78.20L605.51 80.90L606.20 83.60L603.30 82.59L600.40 83.60L601.09 80.90Z" fill="#0000ff" stroke="#0000ff" stroke-width="1.1" stroke-linejoin="round"/>
<path d="M644.40 72.90L647.30 73.91L650.20 72.90L649.51 75.60L650.20 78.30L647.30 77.29L644.40 78.30L645.09 75.60Z" fill="#0000ff" stroke="#0000ff" stroke-width="1.1" stroke-linejoin="round"/>
<path d="M688.50 70.40L691.40 71.41L694.30 70.40L693.61 73.10L694.30 75.80L691.40 74.79L688.50 75.80L689.19 73.10Z" fill="#0000ff" stroke="#0000ff" stroke-width="1.1" stroke-linejoin="round"/>
<rect x="497.65" y="288.25" width="5.5" height="5.5" fill="#000"/>
<rect x="499.45" y="280.85" width="5.5" height="5.5" fill="#000"/>
<rect x="500.75" y="272.65" width="5.5" height="5.5" fill="#000"/>
<rect x="502.05" y="263.75" width="5.5" height="5.5" fill="#000"/>
<rect x="505.35" y="220.45" width="5.5" height="5.5" fill="#000"/>
<rect x="507.45" y="190.75" width="5.5" height="5.5" fill="#000"/>
<rect x="511.65" y="148.65" width="5.5" height="5.5" fill="#000"/>
<rect x="515.75" y="131.35" width="5.5" height="5.5" fill="#000"/>
<rect x="526.05" y="111.75" width="5.5" height="5.5" fill="#000"/>
<rect x="535.65" y="102.05" width="5.5" height="5.5" fill="#000"/>
<rect x="553.95" y="89.25" width="5.5" height="5.5" fill="#000"/>
<rect x="600.35" y="77.55" width="5.5" height="5.5" fill="#000"/>
<rect x="644.45" y="72.55" width="5.5" height="5.5" fill="#000"/>
<rect x="688.65" y="70.15" width="5.5" height="5.5" fill="#000"/>
</g>
</svg>
</body></html>
